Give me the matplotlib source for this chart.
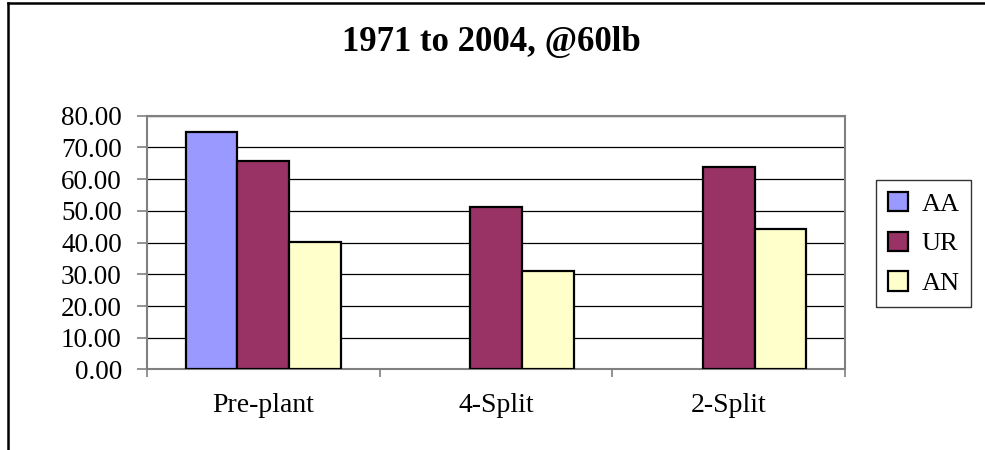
import numpy as np
import matplotlib
matplotlib.use("Agg")
import matplotlib.pyplot as plt
from matplotlib.lines import Line2D
from matplotlib.ticker import FormatStrFormatter

plt.rcParams['font.family'] = ['Liberation Serif', 'DejaVu Serif']

# --- data --------------------------------------------------------------------
categories = ['Pre-plant', '4-Split', '2-Split']
series     = ['AA', 'UR', 'AN']
aa_vals    = [74.8, np.nan, np.nan]
ur_vals    = [65.8, 51.1, 63.8]
an_vals    = [40.1, 31.0, 44.4]
colors     = {'AA': '#9999FF', 'UR': '#993366', 'AN': '#FFFFCC'}
title      = "1971 to 2004, @60lb"
y_ticks    = [0, 10, 20, 30, 40, 50, 60, 70, 80]

values = {'AA': aa_vals, 'UR': ur_vals, 'AN': an_vals}

fig = plt.figure(figsize=(9.85, 4.5), dpi=100)
ax = fig.add_axes([0.149, 0.179, 0.709, 0.564])

x = np.arange(len(categories))
width = 1.0 / 4.5   # Excel gap width 150%
for i, s in enumerate(series):
    ax.bar(x + (i - 1) * width, values[s], width, color=colors[s],
           edgecolor='black', linewidth=1.6, label=s, zorder=3)

ax.set_xlim(-0.5, len(categories) - 0.5)
ax.set_ylim(0, 80)
ax.set_yticks(y_ticks)
ax.yaxis.set_major_formatter(FormatStrFormatter('%.2f'))
ax.set_xticks(x)
ax.set_xticklabels(categories, fontsize=20)
ax.set_xticks(np.arange(-0.5, len(categories)), minor=True)
ax.tick_params(axis='x', which='major', length=0, pad=17)
ax.tick_params(axis='x', which='minor', length=6, color='#808080', width=1.2)
ax.tick_params(axis='y', length=7, color='#808080', width=1.2, labelsize=19.5, pad=11)

ax.grid(axis='y', color='black', linewidth=0.9, zorder=1)
for sp in ax.spines.values():
    sp.set_color('#808080')
    sp.set_linewidth(1.5)

fig.text(0.499, 0.905, title, ha='center', va='center',
         fontsize=25, fontweight='bold')

leg = fig.legend(loc='center', bbox_to_anchor=(0.938, 0.459), fontsize=19,
                 frameon=True, fancybox=False, edgecolor='black',
                 handlelength=0.75, handleheight=0.75, handletextpad=0.5,
                 labelspacing=0.6, borderpad=0.45, borderaxespad=0)
leg.get_frame().set_linewidth(1.0)

# outer chart frame (only top and left edges visible in the crop)
fig.add_artist(Line2D([0.0085, 1.0], [0.9925, 0.9925], color='black', lw=1.8,
                      transform=fig.transFigure))
fig.add_artist(Line2D([0.0085, 0.0085], [0.0, 0.9925], color='black', lw=1.8,
                      transform=fig.transFigure))

fig.savefig('out.png', dpi=100)
